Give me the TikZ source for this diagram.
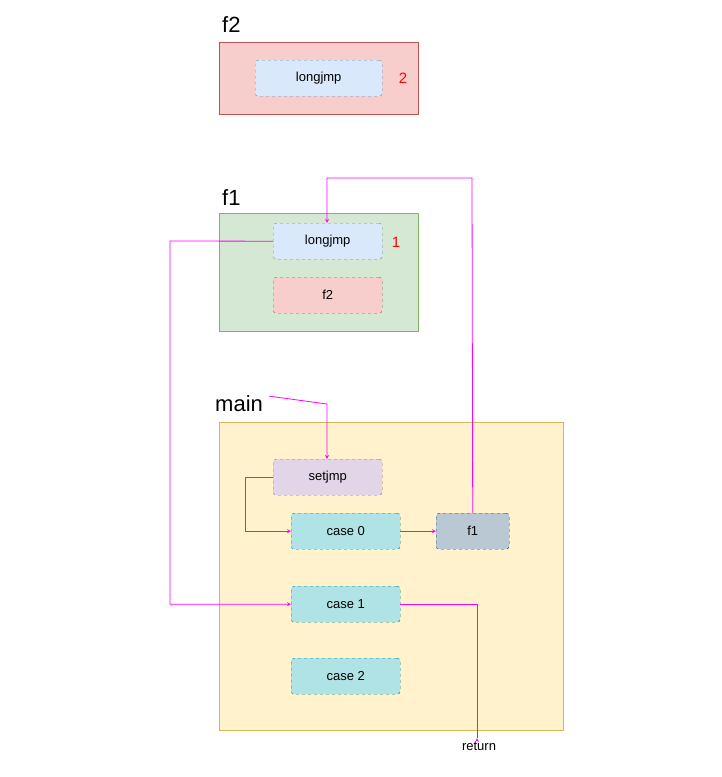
\documentclass[tikz,border=0pt]{standalone}
\usepackage{fontspec}
\setmainfont{Liberation Sans}
\usetikzlibrary{arrows}
\definecolor{pinkline}{HTML}{FF00FF}
\begin{document}
\begin{tikzpicture}[x=1pt,y=-1pt,
      % Define styles
      frame/.style={rectangle, draw, anchor=north west, inner sep=0pt},
      call/.style={rectangle, draw, dashed, rounded corners=3pt, anchor=north west, inner sep=0pt, font=\fontsize{13}{15}\selectfont},
      title/.style={anchor=base west, font=\fontsize{22}{24}\selectfont, inner sep=0pt},
      arrow/.style={->, >=stealth, draw=pinkline, thick}
    ]
    \useasboundingbox (0,0) rectangle (722,777);

    % Frames
    \node[frame, fill={rgb,255:red,248;green,206;blue,204}, draw={rgb,255:red,184;green,84;blue,80}, minimum width=199, minimum height=72] (f2box) at (219,42) {};
    \node[frame, fill={rgb,255:red,213;green,232;blue,212}, draw={rgb,255:red,130;green,179;blue,102}, minimum width=199, minimum height=118] (f1box) at (219,213) {};
    \node[frame, fill={rgb,255:red,255;green,242;blue,204}, draw={rgb,255:red,214;green,182;blue,86}, minimum width=344, minimum height=308] (mainbox) at (219,422) {};
    \node[title] (f2title) at (222,32) {f2};
    \node[title] (f1title) at (222,205) {f1};
    \node[title] (maintitle) at (215,411) {main};

    % Calls
    \node[call, fill={rgb,255:red,218;green,232;blue,252}, draw={rgb,255:red,108;green,142;blue,191}, minimum width=127, minimum height=36] (jmptwo) at (255,60) {longjmp};
    \node[call, fill={rgb,255:red,218;green,232;blue,252}, draw={rgb,255:red,108;green,142;blue,191}, minimum width=109, minimum height=36] (jmpone) at (273,223) {longjmp};
    \node[call, fill={rgb,255:red,248;green,206;blue,204}, draw={rgb,255:red,184;green,84;blue,80}, minimum width=109, minimum height=36] (callf2) at (273,277) {f2};
    \node[call, fill={rgb,255:red,225;green,213;blue,231}, draw={rgb,255:red,150;green,115;blue,166}, minimum width=109, minimum height=36] (setjmp) at (273,459) {setjmp};
    \node[call, fill={rgb,255:red,176;green,227;blue,230}, draw={rgb,255:red,14;green,128;blue,136}, minimum width=109, minimum height=36] (casezero) at (291,513) {case 0};
    \node[call, fill={rgb,255:red,186;green,200;blue,211}, draw={rgb,255:red,35;green,68;blue,93}, minimum width=73, minimum height=36] (callf1) at (436,513) {f1};
    \node[call, fill={rgb,255:red,176;green,227;blue,230}, draw={rgb,255:red,14;green,128;blue,136}, minimum width=109, minimum height=36] (caseone) at (291,586) {case 1};
    \node[call, fill={rgb,255:red,176;green,227;blue,230}, draw={rgb,255:red,14;green,128;blue,136}, minimum width=109, minimum height=36] (casetwo) at (291,658) {case 2};

    % Annotations
    \node[text=red, font=\fontsize{15}{17}\selectfont] (numtwo) at (403,78) {2};
    \node[text=red, font=\fontsize{15}{17}\selectfont] (numone) at (396,242) {1};
    \node[font=\fontsize{13}{15}\selectfont] (ret) at (479,746) {return};

    % Flow
    \draw[arrow] (maintitle.east) ++(6,-7) coordinate (m) -- (327,404) -- (setjmp.north -| 327,0);
    \draw[arrow] (setjmp.west) -- ++(-28,0) |- (casezero.west);
    \draw[arrow] (casezero) -- (callf1);
    \draw[arrow] (callf1.north) -- (472,178) -- (327,178) -- (jmpone.north -| 327,0);
    \draw[arrow] (jmpone.west) -- (170,241) |- (caseone.west);
    \draw[arrow] (caseone.east) -| (ret.north -| 477,0) ++(0,0);

  \end{tikzpicture}
\end{document}
